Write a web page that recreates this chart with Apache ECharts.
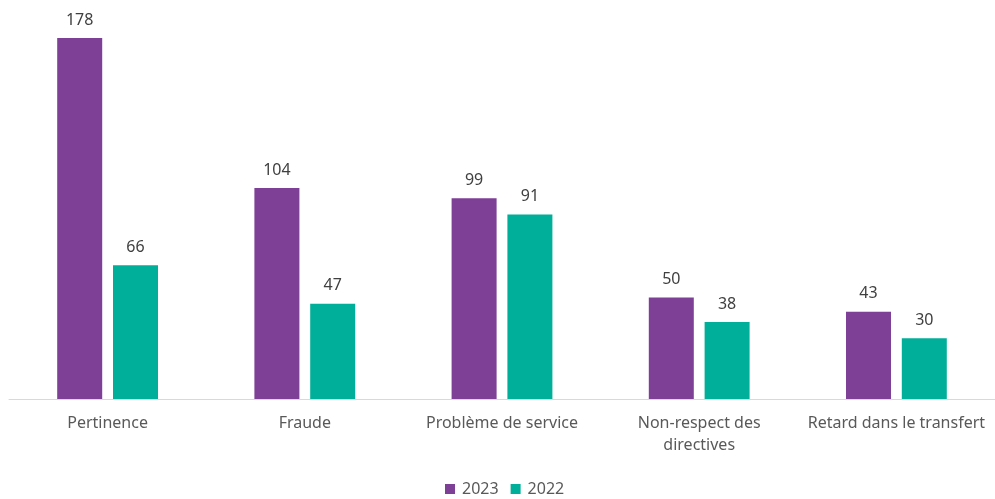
<!DOCTYPE html>
<html><head><meta charset="utf-8">
<script src="https://cdn.jsdelivr.net/npm/echarts@6/dist/echarts.min.js"></script>
<style>html,body{margin:0;padding:0;background:#fff}#c{width:995px;height:499px}</style>
</head><body><div id="c"></div>
<script>
const categories = ["Pertinence", "Fraude", "Problème de service", "Non-respect des\ndirectives", "Retard dans le transfert"];
const values2023 = [178, 104, 99, 50, 43];
const values2022 = [66, 47, 91, 38, 30];
const seriesNames = ["2023", "2022"];

const font = "'Noto Sans', 'Open Sans', sans-serif";
const chart = echarts.init(document.getElementById('c'), null, {renderer: 'canvas'});
const lbl = {show: true, position: 'top', distance: 10, color: '#404040', fontSize: 16, fontFamily: font};
chart.setOption({
  animation: false,
  grid: {left: 9, right: 0, top: 34, bottom: 100},
  legend: {
    top: 481, left: 445, padding: 0, itemWidth: 10, itemHeight: 10, itemGap: 12, icon: 'rect',
    textStyle: {color: '#595959', fontSize: 16, fontFamily: font, padding: [0, 0, 0, 2]},
    data: seriesNames
  },
  xAxis: {
    type: 'category', data: categories,
    axisLine: {lineStyle: {color: '#d9d9d9', width: 1}},
    axisTick: {show: false},
    axisLabel: {color: '#595959', fontSize: 16, fontFamily: font, margin: 13, lineHeight: 22, interval: 0}
  },
  yAxis: {type: 'value', min: 0, max: 180, show: false, splitLine: {show: false}},
  series: [
    {name: seriesNames[0], type: 'bar', data: values2023, barWidth: 45, barGap: '24%', itemStyle: {color: '#7E3F96'}, label: lbl},
    {name: seriesNames[1], type: 'bar', data: values2022, barWidth: 45, barGap: '24%', itemStyle: {color: '#00AF9A'}, label: lbl}
  ]
});
</script></body></html>
